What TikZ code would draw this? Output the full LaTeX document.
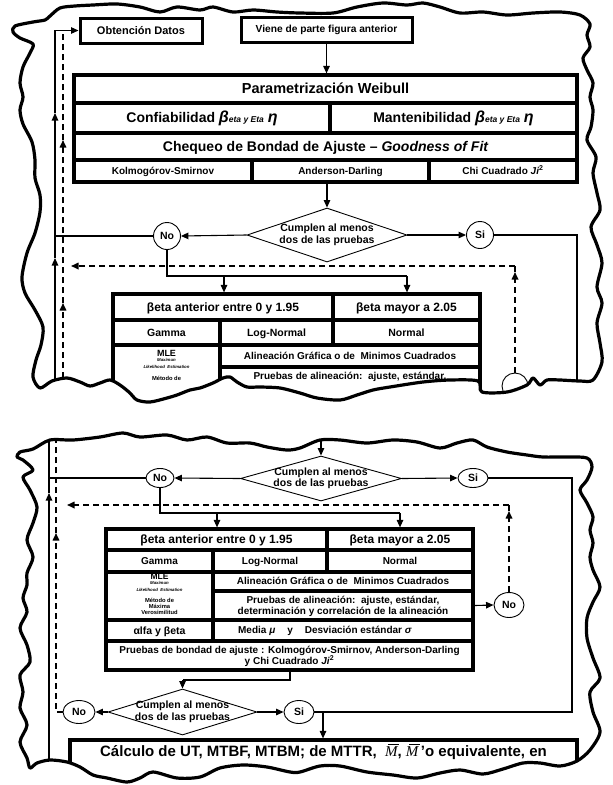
\documentclass[tikz,border=0pt]{standalone}
\usepackage{fontspec}
\setmainfont{Liberation Sans}
\newfontfamily\serifit{Liberation Serif}
\usetikzlibrary{shapes.geometric,arrows.meta}
\newcommand{\fsz}[1]{\fontsize{#1}{#1}\selectfont}
\newcommand{\mbar}{{\serifit\mdseries\itshape\rlap{\kern0.22em\rule[0.8em]{0.72em}{0.05em}}M}}
\newcommand{\tcell}[7]{\node[cell,minimum width={(#4-#2)*1pt},minimum height={(#5-#3)*1pt},font=\bfseries#6] (#1) at ({(#2+#4)/2},{(#3+#5)/2}) {\vphantom{Ág}#7};}
\newcommand{\topshape}[1]{\path[#1] plot[smooth cycle, tension=0.5] coordinates {(50,16) (60,8) (75,6) (93,5) (117,4) (140,7) (160,12) (177,7) (200,10) (213,7) (233,12) (253,10) (277,12) (300,13) (333,13) (357,7) (383,3) (407,5) (423,3) (440,7) (460,13) (483,12) (507,15) (533,13) (560,12) (580,15) (590,24) (587,35) (590,47) (583,58) (587,70) (593,83) (590,97) (593,110) (591,127) (587,140) (596,157) (593,173) (597,193) (600,210) (591,227) (597,245) (602,263) (597,287) (602,303) (597,323) (600,343) (602,362) (593,380) (580,381) (560,380) (547,380) (540,385) (533,378) (527,385) (507,392) (482,392) (478,381) (450,380) (423,382) (390,387) (373,390) (357,395) (340,400) (317,398) (300,393) (280,388) (260,387) (247,387) (237,382) (230,377) (223,378) (213,383) (200,388) (190,390) (177,395) (167,398) (150,402) (137,400) (130,393) (120,385) (110,380) (100,383) (90,386) (80,382) (67,378) (52,381) (40,388) (33,377) (36,360) (41,345) (43,327) (35,310) (25,293) (22,277) (27,253) (35,233) (40,212) (40,195) (35,178) (35,160) (32,142) (23,124) (20,110) (23,97) (20,83) (23,67) (30,53) (33,44) (20,38) (13,32) (15,26) (33,22) (45,20)};}
\newcommand{\botshape}[1]{\path[#1] plot[smooth cycle, tension=0.5] coordinates {(20,452) (33,449) (50,440) (73,440) (100,437) (123,433) (140,437) (167,435) (187,440) (207,437) (227,443) (250,443) (267,447) (287,450) (300,448) (320,440) (340,440) (367,443) (393,440) (417,442) (440,448) (457,443) (473,440) (487,447) (507,452) (527,455) (543,457) (567,457) (587,458) (592,467) (587,480) (580,490) (587,503) (593,517) (590,530) (593,543) (590,557) (593,570) (600,587) (593,602) (587,618) (587,638) (593,658) (600,678) (590,692) (593,712) (600,732) (590,750) (577,761) (560,766) (540,763) (523,763) (503,769) (483,774) (460,770) (440,773) (417,778) (393,775) (367,772) (340,766) (320,766) (300,772) (290,772) (267,767) (243,765) (220,768) (200,777) (177,778) (153,772) (140,778) (127,782) (107,778) (93,775) (80,767) (67,762) (50,760) (37,763) (30,768) (27,758) (20,742) (27,725) (20,708) (23,692) (20,675) (30,662) (27,645) (20,628) (27,612) (23,598) (27,585) (27,573) (33,557) (27,540) (33,523) (37,507) (30,490) (23,477) (33,470) (23,460) (17,457)};}
\tikzset{
  cell/.style={draw, line width=3.2pt, rectangle, inner sep=0pt, align=center},
  obox/.style={draw, line width=3pt, rectangle, inner sep=0pt},
  conn/.style={line width=1.1pt},
  dconn/.style={line width=1.6pt, dash pattern=on 6pt off 4pt},
  arr/.style={-{Triangle[length=7.5pt,width=6.5pt]}},
  dia/.style={draw, diamond, line width=0.9pt, inner xsep=-10pt, inner ysep=-3pt, align=center, font=\bfseries\fontsize{10.5}{11.5}\selectfont},
  yn/.style={draw, ellipse, line width=0.9pt, inner sep=0pt, font=\bfseries\fsz{10.5}},
  border/.style={draw, line width=3.2pt, line join=round},
  tiny/.style={font=\bfseries\itshape\fsz{4.3}, inner sep=0pt},
  small/.style={font=\bfseries\fsz{5.8}, inner sep=0pt},
}
\begin{document}
\begin{tikzpicture}[x=1pt,y=-1pt]
\useasboundingbox (0,0) rectangle (613,785);
% ================= TOP PANEL =================
\begin{scope}
\topshape{clip}
\node[obox, minimum width=122pt, minimum height=25pt, font=\bfseries\fsz{11}] (obt) at (141,30.5) {\vphantom{Ág}Obtención Datos};
\node[obox, minimum width=171pt, minimum height=25pt, font=\bfseries\fsz{10.2}] (viene) at (326.5,29.5) {\vphantom{Ág}Viene de parte figura anterior};
\tcell{P}{74}{75}{577}{103}{\fsz{14.5}}{Parametrización Weibull}
\tcell{C1}{74}{103}{330}{133}{\fsz{14}}{Confiabilidad {\itshape\fsz{16}β}{\itshape\fsz{8.5}eta y Eta} {\itshape\fsz{16}η}}
\tcell{C2}{330}{103}{577}{133}{\fsz{14}}{Mantenibilidad {\itshape\fsz{16}β}{\itshape\fsz{8.5}eta y Eta} {\itshape\fsz{16}η}}
\tcell{CH}{74}{133}{577}{160}{\fsz{14}}{Chequeo de Bondad de Ajuste -- {\itshape Goodness of Fit}}
\tcell{K1}{74}{160}{252}{182}{\fsz{10}}{Kolmogórov-Smirnov}
\tcell{K2}{252}{160}{429}{182}{\fsz{10}}{Anderson-Darling}
\tcell{K3}{429}{160}{577}{182}{\fsz{10}}{Chi Cuadrado \textit{Ji}\textsuperscript{2}}
\node[dia, minimum width=160pt, minimum height=54pt, shape aspect=2.96] (dia1) at (327,235) {Cumplen al menos\\dos de las pruebas};
\node[yn, minimum width=27pt, minimum height=27pt] (no1) at (167,236) {No};
\node[yn, minimum width=27pt, minimum height=27pt] (si1) at (480,235) {Si};
\tcell{B1l}{113}{294}{333}{320}{\fsz{12}}{βeta anterior entre 0 y 1.95}
\tcell{B1r}{333}{294}{480}{320}{\fsz{12}}{βeta mayor a 2.05}
\tcell{G1a}{113}{320}{220}{345}{\fsz{10.5}}{Gamma}
\tcell{G1b}{220}{320}{333}{345}{\fsz{10.5}}{Log-Normal}
\tcell{G1c}{333}{320}{480}{345}{\fsz{10.5}}{Normal}
\node[cell, minimum width=107pt, minimum height=95pt] (MLE1) at (166.5,392.5) {};
\tcell{A1}{220}{345}{480}{367}{\fsz{10}}{Alineación Gráfica o de\ \ Minimos Cuadrados}
\node[cell, minimum width=260pt, minimum height=73pt] (PA1) at (350,403.5) {};
\node[font=\bfseries\fsz{9}, inner sep=0pt] (mle1t) at (166.5,353) {MLE};
\node[tiny] (max1t) at (166.5,360) {Maximun};
\node[tiny] (lik1t) at (166.5,367) {Likelihood\ \ Estimation};
\node[small] (met1t) at (166.5,378) {Método de};
\node[font=\bfseries\fsz{10}, inner sep=0pt] (pa1t) at (350,377) {Pruebas de alineación:\ \ ajuste, estándar,};
\node[draw, circle, line width=0.9pt, minimum size=26pt, inner sep=0pt] (oc1) at (515,386) {};
% connectors
\draw[conn,arr] (viene.south) -- (viene.south |- P.north);
\draw[conn,arr] (dia1.north |- K2.south) -- (dia1.north);
\draw[conn,arr] (dia1.west) -- (no1.east);
\draw[conn,arr] (dia1.east) -- (si1.west);
\coordinate (sL) at (55,236);
\draw[conn] (no1.west) -- (sL);
\coordinate (s0) at (55,398);
\coordinate (s1) at (55,258);
\coordinate (s2) at (55,113);
\coordinate (s3) at (55,30.5);
\draw[conn,arr] (s0) -- (s1);
\draw[conn,arr] (s1) -- (s2);
\draw[conn,arr] (s2) -- (s3) -- (obt.west);
\coordinate (e0) at (63,398);
\coordinate (e1) at (63,303);
\coordinate (e2) at (63,140);
\coordinate (e3) at (63,31.5);
\draw[dconn,arr] (e0) -- (e1);
\draw[dconn,arr] (e1) -- (e2);
\draw[dconn] (e2) -- (e3);
\coordinate (h1) at (515,266);
\coordinate (h0) at (71,266);
\coordinate (h2) at (515,272);
\draw[dconn,arr] (oc1.north) -- (h2);
\draw[dconn] (h2) -- (h1);
\draw[dconn,arr] (h1) -- (h0);
\coordinate (r1) at (577,235);
\coordinate (r2) at (577,398);
\draw[conn] (si1.east) -- (r1) -- (r2);
\coordinate (n1) at (167,276);
\coordinate (n2) at (407,276);
\coordinate (n3) at (224,276);
\draw[conn] (no1.south) -- (n1) -- (n2);
\draw[conn,arr] (n2) -- (n2 |- B1r.north);
\draw[conn,arr] (n3) -- (n3 |- B1l.north);
\end{scope}
\topshape{border}
% ================= BOTTOM PANEL =================
\begin{scope}
\botshape{clip}
\node[dia, minimum width=161pt, minimum height=45pt, shape aspect=3.58, font=\bfseries\fontsize{10.5}{10.5}\selectfont] (dia2) at (321,478.5) {Cumplen al menos\\dos de las pruebas};
\node[yn, minimum width=28pt, minimum height=19pt] (no2) at (160,478) {No};
\node[yn, minimum width=30pt, minimum height=19pt] (si2) at (473,478) {Si};
\tcell{B2l}{106}{529}{327}{550}{\fsz{12}}{βeta anterior entre 0 y 1.95}
\tcell{B2r}{327}{529}{473}{550}{\fsz{12}}{βeta mayor a 2.05}
\tcell{G2a}{106}{550}{213}{572}{\fsz{10}}{Gamma}
\tcell{G2b}{213}{550}{327}{572}{\fsz{10}}{Log-Normal}
\tcell{G2c}{327}{550}{473}{572}{\fsz{10}}{Normal}
\node[cell, minimum width=107pt, minimum height=48pt] (MLE2) at (159.5,596) {};
\tcell{A2}{213}{572}{473}{591}{\fsz{10}}{Alineación Gráfica o de\ \ Minimos Cuadrados}
\tcell{PA2}{213}{591}{473}{620}{\fontsize{10}{11}\selectfont}{Pruebas de alineación:\ \ ajuste, estándar,\\determinación y correlación de la alineación}
\tcell{AL2}{106}{620}{213}{641}{\fsz{10.5}}{αlfa y βeta}
\node[cell, minimum width=260pt, minimum height=21pt] (ME2) at (343,630.5) {};
\tcell{PB2}{106}{641}{473}{670}{\fontsize{10}{11}\selectfont}{Pruebas de bondad de ajuste : Kolmogórov-Smirnov, Anderson-Darling\\y Chi Cuadrado \textit{Ji}\textsuperscript{2}}
\node[font=\bfseries\fsz{8.5}, inner sep=0pt] (mle2t) at (159.5,577) {MLE};
\node[tiny] (max2t) at (159.5,583) {Maximun};
\node[tiny] (lik2t) at (159.5,590) {Likelihood\ \ Estimation};
\node[small] (met2t) at (159.5,600) {Método de};
\node[small] (max2m) at (159.5,606) {Máxima};
\node[small] (ver2t) at (159.5,612) {Verosimilitud};
\node[font=\bfseries\fsz{10}, inner sep=0pt] (me2t) at (325,630.5) {\vphantom{Ág}Media \textit{μ}\hspace{12pt}y\hspace{12pt}Desviación estándar \textit{σ}};
\node[yn, minimum width=30pt, minimum height=25pt] (no4) at (509,605) {No};
\node[dia, minimum width=149pt, minimum height=46pt, shape aspect=3.24] (dia3) at (182.5,712) {Cumplen al menos\\dos de las pruebas};
\node[yn, minimum width=32pt, minimum height=23pt] (no3) at (79,712) {No};
\node[yn, minimum width=30pt, minimum height=23pt] (si3) at (299,712) {Si};
\node[cell, minimum width=507pt, minimum height=60pt] (calc) at (323.5,770) {};
\node[font=\bfseries\fsz{15}, inner sep=0pt] (calct) at (323.5,752) {Cálculo de UT, MTBF, MTBM; de MTTR,\ \ \mbar,\ \mbar\,'o equivalente, en};
% connectors
\coordinate (t2) at (321,430);
\draw[conn,arr] (t2) -- (dia2.north);
\draw[conn,arr] (dia2.west) -- (no2.east);
\draw[conn,arr] (dia2.east) -- (si2.west);
\coordinate (sL2) at (49,478);
\draw[conn] (no2.west) -- (sL2);
\coordinate (u0) at (49,770);
\coordinate (u1) at (49,493);
\coordinate (u2) at (49,430);
\draw[conn,arr] (u0) -- (u1);
\draw[conn] (u1) -- (u2);
\coordinate (v0) at (56,712);
\coordinate (v1) at (56,533);
\coordinate (v2) at (56,430);
\draw[dconn,arr] (no3.west) -- (v0) -- (v1);
\draw[dconn] (v1) -- (v2);
\coordinate (w1) at (509,505);
\coordinate (w0) at (67,505);
\coordinate (w2) at (509,511);
\draw[dconn,arr] (no4.north) -- (w2);
\draw[dconn] (w2) -- (w1);
\draw[dconn,arr] (w1) -- (w0);
\draw[conn,arr] (PA2.east) -- (no4.west);
\coordinate (m1) at (160,513);
\coordinate (m2) at (400,513);
\coordinate (m3) at (217,513);
\draw[conn] (no2.south) -- (m1) -- (m2);
\draw[conn,arr] (m2) -- (m2 |- B2r.north);
\draw[conn,arr] (m3) -- (m3 |- B2l.north);
\coordinate (k1) at (290,680);
\coordinate (k2) at (182.5,680);
\draw[conn] (PB2.south -| k1) -- (k1) -- (k2);
\draw[conn,arr] (k2) -- (dia3.north);
\draw[conn,arr] (dia3.west) -- (no3.east);
\draw[conn,arr] (dia3.east) -- (si3.west);
\coordinate (q1) at (572,478);
\coordinate (q2) at (572,712);
\coordinate (q3) at (323,712);
\draw[conn] (si2.east) -- (q1) -- (q2) -- (q3);
\draw[conn] (si3.east) -- (q3);
\draw[conn,arr] (q3) -- (q3 |- calc.north);
\end{scope}
\botshape{border}
\end{tikzpicture}
\end{document}
